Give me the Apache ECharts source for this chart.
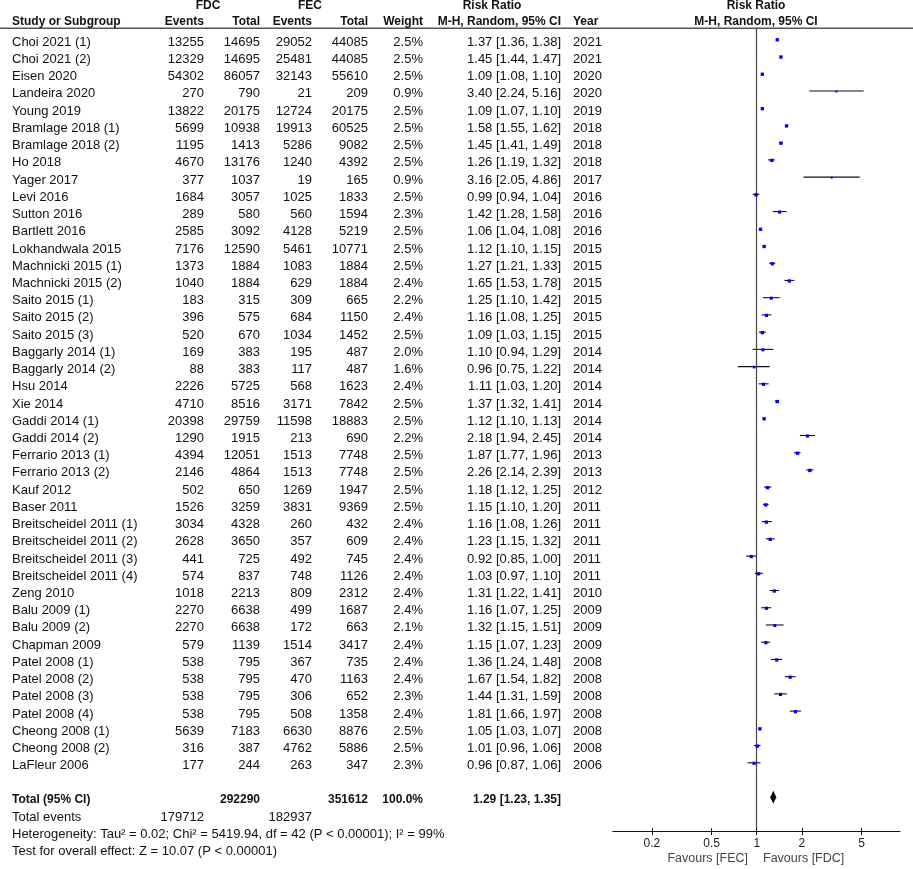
<!DOCTYPE html>
<html>
<head>
<meta charset="utf-8">
<title>forest plot</title>
<script src="https://cdn.jsdelivr.net/npm/echarts@6/dist/echarts.min.js"></script>
<style>
  html, body { margin: 0; padding: 0; background: #fff; }
  #main { width: 913px; height: 869px; }
</style>
</head>
<body>
<div id="main"></div>
<script type="text/javascript">
// data
var studies = ['Choi 2021 (1)', 'Choi 2021 (2)', 'Eisen 2020', 'Landeira 2020', 'Young 2019',
  'Bramlage 2018 (1)', 'Bramlage 2018 (2)', 'Ho 2018', 'Yager 2017', 'Levi 2016', 'Sutton 2016',
  'Bartlett 2016', 'Lokhandwala 2015', 'Machnicki 2015 (1)', 'Machnicki 2015 (2)', 'Saito 2015 (1)',
  'Saito 2015 (2)', 'Saito 2015 (3)', 'Baggarly 2014 (1)', 'Baggarly 2014 (2)', 'Hsu 2014', 'Xie 2014',
  'Gaddi 2014 (1)', 'Gaddi 2014 (2)', 'Ferrario 2013 (1)', 'Ferrario 2013 (2)', 'Kauf 2012', 'Baser 2011',
  'Breitscheidel 2011 (1)', 'Breitscheidel 2011 (2)', 'Breitscheidel 2011 (3)', 'Breitscheidel 2011 (4)',
  'Zeng 2010', 'Balu 2009 (1)', 'Balu 2009 (2)', 'Chapman 2009', 'Patel 2008 (1)', 'Patel 2008 (2)',
  'Patel 2008 (3)', 'Patel 2008 (4)', 'Cheong 2008 (1)', 'Cheong 2008 (2)', 'LaFleur 2006'];
var fdcEvents = [13255, 12329, 54302, 270, 13822, 5699, 1195, 4670, 377, 1684, 289, 2585, 7176, 1373, 1040,
  183, 396, 520, 169, 88, 2226, 4710, 20398, 1290, 4394, 2146, 502, 1526, 3034, 2628, 441, 574, 1018,
  2270, 2270, 579, 538, 538, 538, 538, 5639, 316, 177];
var fdcTotal = [14695, 14695, 86057, 790, 20175, 10938, 1413, 13176, 1037, 3057, 580, 3092, 12590, 1884, 1884,
  315, 575, 670, 383, 383, 5725, 8516, 29759, 1915, 12051, 4864, 650, 3259, 4328, 3650, 725, 837, 2213,
  6638, 6638, 1139, 795, 795, 795, 795, 7183, 387, 244];
var fecEvents = [29052, 25481, 32143, 21, 12724, 19913, 5286, 1240, 19, 1025, 560, 4128, 5461, 1083, 629,
  309, 684, 1034, 195, 117, 568, 3171, 11598, 213, 1513, 1513, 1269, 3831, 260, 357, 492, 748, 809,
  499, 172, 1514, 367, 470, 306, 508, 6630, 4762, 263];
var fecTotal = [44085, 44085, 55610, 209, 20175, 60525, 9082, 4392, 165, 1833, 1594, 5219, 10771, 1884, 1884,
  665, 1150, 1452, 487, 487, 1623, 7842, 18883, 690, 7748, 7748, 1947, 9369, 432, 609, 745, 1126, 2312,
  1687, 663, 3417, 735, 1163, 652, 1358, 8876, 5886, 347];
var weights = [2.5, 2.5, 2.5, 0.9, 2.5, 2.5, 2.5, 2.5, 0.9, 2.5, 2.3, 2.5, 2.5, 2.5, 2.4, 2.2, 2.4, 2.5, 2.0, 1.6,
  2.4, 2.5, 2.5, 2.2, 2.5, 2.5, 2.5, 2.5, 2.4, 2.4, 2.4, 2.4, 2.4, 2.4, 2.1, 2.4, 2.4, 2.4, 2.3, 2.4, 2.5, 2.5, 2.3];
var rr = [1.37, 1.45, 1.09, 3.40, 1.09, 1.58, 1.45, 1.26, 3.16, 0.99, 1.42, 1.06, 1.12, 1.27, 1.65, 1.25, 1.16,
  1.09, 1.10, 0.96, 1.11, 1.37, 1.12, 2.18, 1.87, 2.26, 1.18, 1.15, 1.16, 1.23, 0.92, 1.03, 1.31, 1.16, 1.32,
  1.15, 1.36, 1.67, 1.44, 1.81, 1.05, 1.01, 0.96];
var ciLow = [1.36, 1.44, 1.08, 2.24, 1.07, 1.55, 1.41, 1.19, 2.05, 0.94, 1.28, 1.04, 1.10, 1.21, 1.53, 1.10, 1.08,
  1.03, 0.94, 0.75, 1.03, 1.32, 1.10, 1.94, 1.77, 2.14, 1.12, 1.10, 1.08, 1.15, 0.85, 0.97, 1.22, 1.07, 1.15,
  1.07, 1.24, 1.54, 1.31, 1.66, 1.03, 0.96, 0.87];
var ciHigh = [1.38, 1.47, 1.10, 5.16, 1.10, 1.62, 1.49, 1.32, 4.86, 1.04, 1.58, 1.08, 1.15, 1.33, 1.78, 1.42, 1.25,
  1.15, 1.29, 1.22, 1.20, 1.41, 1.13, 2.45, 1.96, 2.39, 1.25, 1.20, 1.26, 1.32, 1.00, 1.10, 1.41, 1.25, 1.51,
  1.23, 1.48, 1.82, 1.59, 1.97, 1.07, 1.06, 1.06];
var years = [2021, 2021, 2020, 2020, 2019, 2018, 2018, 2018, 2017, 2016, 2016, 2016, 2015, 2015, 2015, 2015, 2015,
  2015, 2014, 2014, 2014, 2014, 2014, 2014, 2013, 2013, 2012, 2011, 2011, 2011, 2011, 2011, 2010, 2009, 2009,
  2009, 2008, 2008, 2008, 2008, 2008, 2008, 2006];

var totalFdc = 292290, totalFec = 351612, totalWeight = 100.0;
var eventsFdc = 179712, eventsFec = 182937;
var pooled = [1.29, 1.23, 1.35];
var axisTicks = [0.2, 0.5, 1, 2, 5];
var heterogeneity = 'Heterogeneity: Tau² = 0.02; Chi² = 5419.94, df = 42 (P < 0.00001); I² = 99%';
var overallTest = 'Test for overall effect: Z = 10.07 (P < 0.00001)';

var myChart = echarts.init(document.getElementById('main'));

var FONT = '13px "Liberation Sans", Arial, sans-serif';
var BOLD = 'bold 12px "Liberation Sans", Arial, sans-serif';
// column anchors (pixels) and text row shift
var COL = { study: 12, fdcE: 204, fdcT: 260, fecE: 312, fecT: 368, weight: 423, rr: 561, year: 573 };
var TS = 0.17;
var H1 = -1.95, H2 = -1.0;

function ciText(a, b, c) {
  return a.toFixed(2) + ' [' + b.toFixed(2) + ', ' + c.toFixed(2) + ']';
}

// table cells: [x, row, text, align, font]
var cells = [];
cells.push([208, H1, 'FDC', 'center', BOLD]);
cells.push([310, H1, 'FEC', 'center', BOLD]);
cells.push([492, H1, 'Risk Ratio', 'center', BOLD]);
cells.push([756, H1, 'Risk Ratio', 'center', BOLD]);
cells.push([COL.study, H2, 'Study or Subgroup', 'left', BOLD]);
cells.push([COL.fdcE, H2, 'Events', 'right', BOLD]);
cells.push([COL.fdcT, H2, 'Total', 'right', BOLD]);
cells.push([COL.fecE, H2, 'Events', 'right', BOLD]);
cells.push([COL.fecT, H2, 'Total', 'right', BOLD]);
cells.push([COL.weight, H2, 'Weight', 'right', BOLD]);
cells.push([COL.rr, H2, 'M-H, Random, 95% CI', 'right', BOLD]);
cells.push([COL.year, H2, 'Year', 'left', BOLD]);
cells.push([756, H2, 'M-H, Random, 95% CI', 'center', BOLD]);

studies.forEach(function (s, i) {
  var r = i + TS;
  cells.push([COL.study, r, s, 'left', FONT]);
  cells.push([COL.fdcE, r, String(fdcEvents[i]), 'right', FONT]);
  cells.push([COL.fdcT, r, String(fdcTotal[i]), 'right', FONT]);
  cells.push([COL.fecE, r, String(fecEvents[i]), 'right', FONT]);
  cells.push([COL.fecT, r, String(fecTotal[i]), 'right', FONT]);
  cells.push([COL.weight, r, weights[i].toFixed(1) + '%', 'right', FONT]);
  cells.push([COL.rr, r, ciText(rr[i], ciLow[i], ciHigh[i]), 'right', FONT]);
  cells.push([COL.year, r, String(years[i]), 'left', FONT]);
});

var tr = studies.length + 1 + TS;
cells.push([COL.study, tr, 'Total (95% CI)', 'left', BOLD]);
cells.push([COL.fdcT, tr, String(totalFdc), 'right', BOLD]);
cells.push([COL.fecT, tr, String(totalFec), 'right', BOLD]);
cells.push([COL.weight, tr, totalWeight.toFixed(1) + '%', 'right', BOLD]);
cells.push([COL.rr, tr, ciText(pooled[0], pooled[1], pooled[2]), 'right', BOLD]);
cells.push([COL.study, tr + 1, 'Total events', 'left', FONT]);
cells.push([COL.fdcE, tr + 1, String(eventsFdc), 'right', FONT]);
cells.push([COL.fecE, tr + 1, String(eventsFec), 'right', FONT]);
cells.push([COL.study, tr + 2, heterogeneity, 'left', FONT]);
cells.push([COL.study, tr + 3, overallTest, 'left', FONT]);

// forest marks in log10 space
var marks = studies.map(function (s, i) {
  return [Math.log10(ciLow[i]), Math.log10(ciHigh[i]), Math.log10(rr[i]), i, weights[i]];
});
var diamond = [[Math.log10(pooled[1]), Math.log10(pooled[2]), Math.log10(pooled[0]), studies.length + 1]];

var TOP = 29.3, BOTTOM = 37.3, YMIN = -0.58, YMAX = 46;
var tickVals = axisTicks.map(Math.log10);

var option = {
  backgroundColor: '#fff',
  animation: false,
  grid: [
    { left: 612.7, right: 13, top: TOP, bottom: BOTTOM },
    { left: 0, right: 0, top: TOP, bottom: BOTTOM }
  ],
  xAxis: [{
    gridIndex: 0,
    type: 'value',
    position: 'bottom',
    min: -0.96,
    max: 0.955,
    axisLine: { onZero: false, lineStyle: { color: '#111', width: 1 } },
    axisTick: { show: true, length: 3.5, customValues: tickVals, lineStyle: { color: '#111' } },
    axisLabel: {
      customValues: tickVals,
      margin: 6,
      color: '#222',
      fontSize: 12,
      fontFamily: '"Liberation Sans", Arial, sans-serif',
      formatter: function (v) { return String(Math.round(Math.pow(10, v) * 10) / 10); }
    },
    splitLine: { show: false }
  }, {
    gridIndex: 1,
    type: 'value',
    min: 0,
    max: 913,
    show: false
  }, {
    // inner half of the crossing ticks
    gridIndex: 0,
    type: 'value',
    position: 'bottom',
    min: -0.96,
    max: 0.955,
    axisLine: { show: false, onZero: false },
    axisTick: { show: true, inside: true, length: 3.5, customValues: tickVals, lineStyle: { color: '#111' } },
    axisLabel: { show: false },
    splitLine: { show: false }
  }],
  yAxis: [{
    gridIndex: 0,
    type: 'value',
    inverse: true,
    min: YMIN,
    max: YMAX,
    axisLine: { show: true, onZero: true, onZeroAxisIndex: 0, lineStyle: { color: '#444', width: 1.2 } },
    axisTick: { show: false },
    axisLabel: { show: false },
    splitLine: { show: false }
  }, {
    gridIndex: 1,
    type: 'value',
    inverse: true,
    min: YMIN,
    max: YMAX,
    show: false
  }],
  series: [{
    type: 'custom',
    xAxisIndex: 1,
    yAxisIndex: 1,
    clip: false,
    silent: true,
    data: cells,
    renderItem: function (params, api) {
      var c = cells[params.dataIndex];
      var p = api.coord([c[0], c[1]]);
      return {
        type: 'text',
        x: p[0],
        y: p[1],
        style: {
          text: c[2],
          font: c[4],
          fill: '#111',
          align: c[3],
          verticalAlign: 'middle'
        }
      };
    }
  }, {
    type: 'custom',
    xAxisIndex: 0,
    yAxisIndex: 0,
    clip: false,
    silent: true,
    data: marks,
    renderItem: function (params, api) {
      var a = api.coord([api.value(0), api.value(3)]);
      var b = api.coord([api.value(1), api.value(3)]);
      var m = api.coord([api.value(2), api.value(3)]);
      var s = 2.1 * Math.sqrt(api.value(4));
      return {
        type: 'group',
        children: [{
          type: 'line',
          shape: { x1: a[0], y1: a[1], x2: b[0], y2: b[1] },
          style: { stroke: '#111', lineWidth: 1.1 }
        }, {
          type: 'rect',
          shape: { x: m[0] - s / 2, y: m[1] - s / 2 + 0.5, width: s, height: s },
          style: { fill: '#0000ff' }
        }]
      };
    }
  }, {
    type: 'custom',
    xAxisIndex: 0,
    yAxisIndex: 0,
    clip: false,
    silent: true,
    data: diamond,
    renderItem: function (params, api) {
      var a = api.coord([api.value(0), api.value(3)]);
      var b = api.coord([api.value(1), api.value(3)]);
      var m = api.coord([api.value(2), api.value(3)]);
      var h = 6.5;
      return {
        type: 'polygon',
        shape: { points: [[a[0], a[1]], [m[0], m[1] - h], [b[0], b[1]], [m[0], m[1] + h]] },
        style: { fill: '#000' }
      };
    }
  }],
  graphic: [{
    type: 'line',
    shape: { x1: 0, y1: TOP - 1, x2: 913, y2: TOP - 1 },
    style: { stroke: '#555', lineWidth: 1.5 },
    silent: true
  }, {
    type: 'text',
    x: 748,
    y: 859,
    style: { text: 'Favours [FEC]', font: '12.5px "Liberation Sans", Arial, sans-serif', fill: '#444', align: 'right', verticalAlign: 'middle' }
  }, {
    type: 'text',
    x: 763,
    y: 859,
    style: { text: 'Favours [FDC]', font: '12.5px "Liberation Sans", Arial, sans-serif', fill: '#444', align: 'left', verticalAlign: 'middle' }
  }]
};

myChart.setOption(option);
</script>
</body>
</html>
